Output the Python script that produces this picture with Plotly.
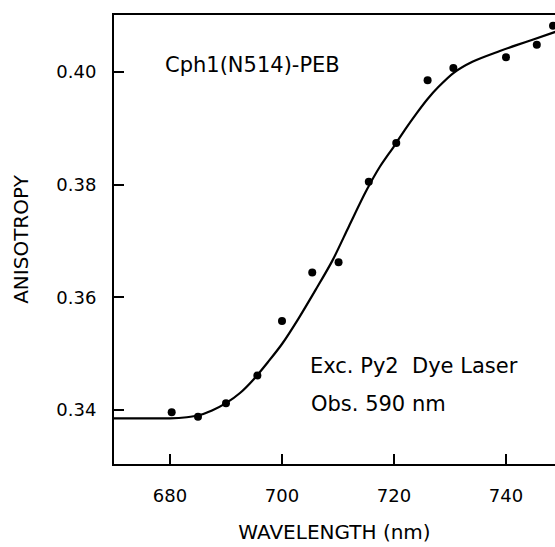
import plotly.graph_objects as go

# measured data points
wl_pts = [680.3, 685, 690, 695.6, 700, 705.4, 710.1, 715.5, 720.4, 726, 730.6, 740, 745.5, 748.4]
aniso_pts = [0.3396, 0.3388, 0.3412, 0.3461, 0.3558, 0.3644, 0.3662, 0.3805, 0.3874, 0.3985, 0.4007, 0.4026, 0.4048, 0.4082]

# fitted curve
wl_fit = [670, 675, 680, 683, 685, 687.5, 690, 692.5, 695, 697.5, 700, 703, 706, 709, 712, 715, 717.5,
          720, 722, 724, 726, 728, 730.6, 734, 738.9, 742, 745, 748.8]
aniso_fit = [0.3385, 0.3385, 0.3385, 0.3387, 0.3390, 0.3399, 0.3412, 0.3430, 0.3455, 0.3485, 0.3517,
             0.3563, 0.3613, 0.3665, 0.3727, 0.3788, 0.3832, 0.3868, 0.3898, 0.3926, 0.3952, 0.3974,
             0.3998, 0.4018, 0.4037, 0.4048, 0.4058, 0.4071]

x_ticks = [680, 700, 720, 740]
y_ticks = [0.34, 0.36, 0.38, 0.40]
y_tick_text = ["0.34", "0.36", "0.38", "0.40"]

FONT = "DejaVu Sans"

fig = go.Figure()
fig.add_trace(go.Scatter(x=wl_fit, y=aniso_fit, mode="lines",
                         line=dict(color="black", width=2.2, shape="spline", smoothing=0.8),
                         showlegend=False))
fig.add_trace(go.Scatter(x=wl_pts, y=aniso_pts, mode="markers",
                         marker=dict(color="black", size=8), showlegend=False, cliponaxis=False))

fig.add_annotation(x=163, y=65, text="Cph1(N514)-PEB",
                   showarrow=False, xanchor="left", yanchor="middle",
                   font=dict(family=FONT, size=21, color="black"))
fig.add_annotation(x=308, y=366, text="Exc. Py2  Dye Laser", showarrow=False,
                   xanchor="left", yanchor="middle", font=dict(family=FONT, size=21, color="black"))
fig.add_annotation(x=309, y=404, text="Obs. 590 nm", showarrow=False,
                   xanchor="left", yanchor="middle", font=dict(family=FONT, size=21, color="black"))

# convert the pixel-positioned annotations to paper coords
L, T, W, H = 114, 15, 555, 547
pw, ph = W - L, 464 - T
for a in fig.layout.annotations:
    a.xref = "paper"; a.yref = "paper"
    px, py = a.x, a.y
    a.x = (px - L) / pw
    a.y = 1 - (py - T) / ph

fig.update_layout(
    width=W, height=H,
    margin=dict(l=L, r=0, t=T, b=H - 464, pad=0),
    paper_bgcolor="white", plot_bgcolor="white",
    font=dict(family=FONT, size=18, color="black"),
    xaxis=dict(range=[670, 748.75], tickvals=x_ticks, ticks="inside", ticklen=10, tickwidth=2,
               tickcolor="black", showline=True, linecolor="black", linewidth=2, mirror=True,
               showgrid=False, zeroline=False, ticklabelstandoff=14,
               title=dict(text="WAVELENGTH (nm)", font=dict(size=20), standoff=20)),
    yaxis=dict(range=[0.3304, 0.4101], tickvals=y_ticks, ticktext=y_tick_text, ticks="inside",
               ticklen=10, tickwidth=2, tickcolor="black", showline=True, linecolor="black",
               linewidth=2, mirror=False, showgrid=False, zeroline=False, ticklabelstandoff=12,
               title=dict(text="ANISOTROPY", font=dict(size=20), standoff=22)),
)

fig.write_html("out.html")
